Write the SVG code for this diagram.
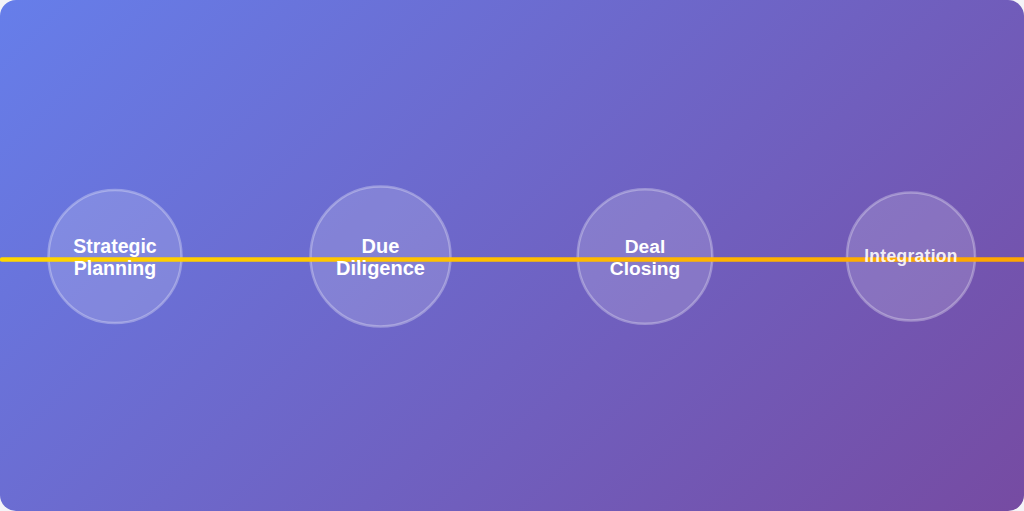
<svg xmlns="http://www.w3.org/2000/svg" width="1024" height="511" viewBox="0 0 1024 511">
  <defs>
    <linearGradient id="bg" x1="128.4" y1="-128.1" x2="895.6" y2="639.1" gradientUnits="userSpaceOnUse">
      <stop offset="0" stop-color="#667eea"/>
      <stop offset="1" stop-color="#764ba2"/>
    </linearGradient>
    <linearGradient id="ln" x1="0" y1="0" x2="1024" y2="0" gradientUnits="userSpaceOnUse">
      <stop offset="0" stop-color="#ffd700"/>
      <stop offset="1" stop-color="#ffa500"/>
    </linearGradient>
    <style>
      .node circle { fill: #ffffff; fill-opacity: 0.16; stroke: #ffffff; stroke-opacity: 0.3; stroke-width: 2.5; }
      .node text { font-family: "Liberation Sans", Arial, sans-serif; font-weight: bold; fill: #ffffff; text-anchor: middle; }
    </style>
  </defs>
  <rect x="0" y="0" width="1024" height="511" fill="#f4f4f8"/>
  <rect x="0" y="0" width="1024" height="511" rx="16" ry="16" fill="url(#bg)"/>

  <g id="node-strategic-planning" class="node">
    <circle cx="115" cy="256.5" r="66.5"/>
  </g>
  <g id="node-due-diligence" class="node">
    <circle cx="380.5" cy="256.5" r="70"/>
  </g>
  <g id="node-deal-closing" class="node">
    <circle cx="645" cy="256.5" r="67.3"/>
  </g>
  <g id="node-integration" class="node">
    <circle cx="911" cy="256.5" r="64"/>
  </g>

  <g id="connectors">
    <line x1="2" y1="259.5" x2="1024" y2="259.5" stroke="url(#ln)" stroke-width="4.5" stroke-linecap="round"/>
  </g>

  <g id="labels" class="node">
    <text font-size="19.5"><tspan x="115" y="253">Strategic</tspan><tspan x="115" y="275">Planning</tspan></text>
    <text font-size="20"><tspan x="380.5" y="252.5">Due</tspan><tspan x="380.5" y="275">Diligence</tspan></text>
    <text font-size="19.2"><tspan x="645" y="252.5">Deal</tspan><tspan x="645" y="274.5">Closing</tspan></text>
    <text font-size="17.5" x="911" y="262" fill-opacity="0.9" letter-spacing="0.3">Integration</text>
  </g>
</svg>
